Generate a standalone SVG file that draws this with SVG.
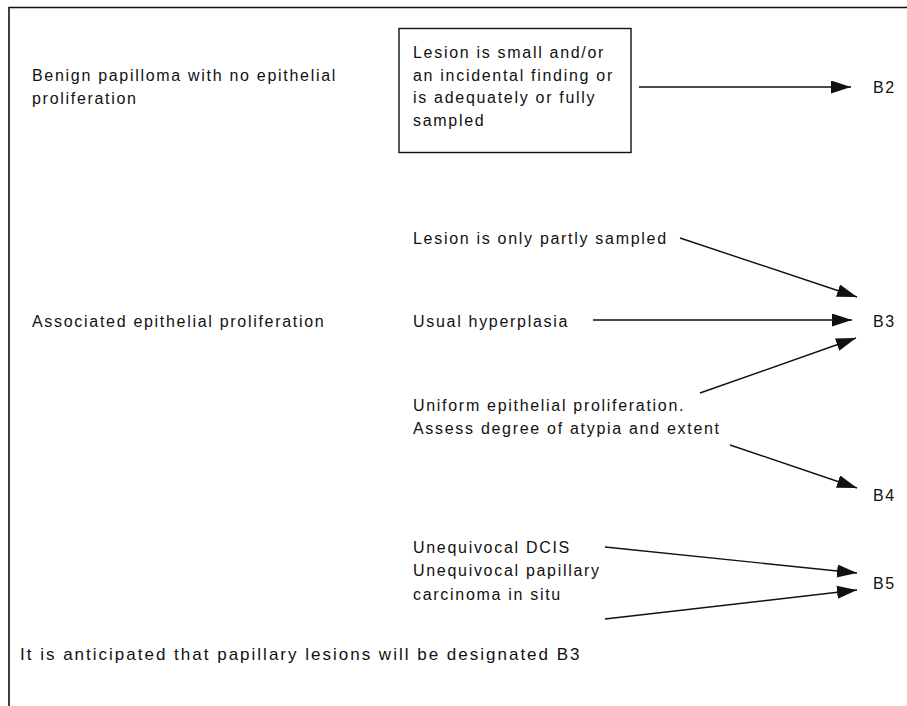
<svg xmlns="http://www.w3.org/2000/svg" width="907" height="706" viewBox="0 0 907 706">
<style>
text{font-family:"Liberation Sans",Arial,sans-serif;font-size:16px;letter-spacing:1.7px;fill:#111}
.note{font-size:17px;letter-spacing:2px}
.frame{stroke:#111;stroke-width:1.6;fill:none}
.box{stroke:#111;stroke-width:1.4;fill:#fff}
.conn{stroke:#111;stroke-width:1.4;fill:none;marker-end:url(#ah)}
</style>
<defs>
<marker id="ah" markerUnits="userSpaceOnUse" markerWidth="22" markerHeight="14" refX="20" refY="6.5" orient="auto">
<path d="M0,0 L20,6.5 L0,13 Z" fill="#111"/>
</marker>
</defs>
<rect width="907" height="706" fill="#fff"/>
<g id="frame">
<path class="frame" d="M9,706 L9,7.5 L907,7.5"/>
</g>
<g id="n-benign">
<text x="32" y="80.5">Benign papilloma with no epithelial</text>
<text x="32" y="103.5">proliferation</text>
</g>
<g id="n-box">
<rect class="box" x="399" y="28.5" width="232" height="124"/>
<text x="413" y="58">Lesion is small and/or</text>
<text x="413" y="80.5">an incidental finding or</text>
<text x="413" y="103">is adequately or fully</text>
<text x="413" y="125.5">sampled</text>
</g>
<g id="n-b2"><text x="873" y="93">B2</text></g>
<g id="n-partly"><text x="413" y="243.5">Lesion is only partly sampled</text></g>
<g id="n-assoc"><text x="32" y="326.5">Associated epithelial proliferation</text></g>
<g id="n-usual"><text x="413" y="326.5">Usual hyperplasia</text></g>
<g id="n-b3"><text x="873" y="326.5">B3</text></g>
<g id="n-uniform">
<text x="413" y="410.5">Uniform epithelial proliferation.</text>
<text x="413" y="433.5">Assess degree of atypia and extent</text>
</g>
<g id="n-b4"><text x="873" y="500.5">B4</text></g>
<g id="n-dcis"><text x="413" y="552.5">Unequivocal DCIS</text></g>
<g id="n-papillary">
<text x="413" y="575.5">Unequivocal papillary</text>
<text x="413" y="599.5">carcinoma in situ</text>
</g>
<g id="n-b5"><text x="873" y="588.5">B5</text></g>
<g id="n-note"><text class="note" x="20" y="660">It is anticipated that papillary lesions will be designated B3</text></g>
<g id="connectors">
<line class="conn" x1="639" y1="87" x2="851" y2="87"/>
<line class="conn" x1="680" y1="238" x2="857" y2="297"/>
<line class="conn" x1="593" y1="320" x2="852" y2="320"/>
<line class="conn" x1="700" y1="393" x2="856" y2="338"/>
<line class="conn" x1="730" y1="445" x2="857" y2="488"/>
<line class="conn" x1="605" y1="547" x2="857" y2="573"/>
<line class="conn" x1="605" y1="619" x2="857" y2="590"/>
</g>
</svg>
